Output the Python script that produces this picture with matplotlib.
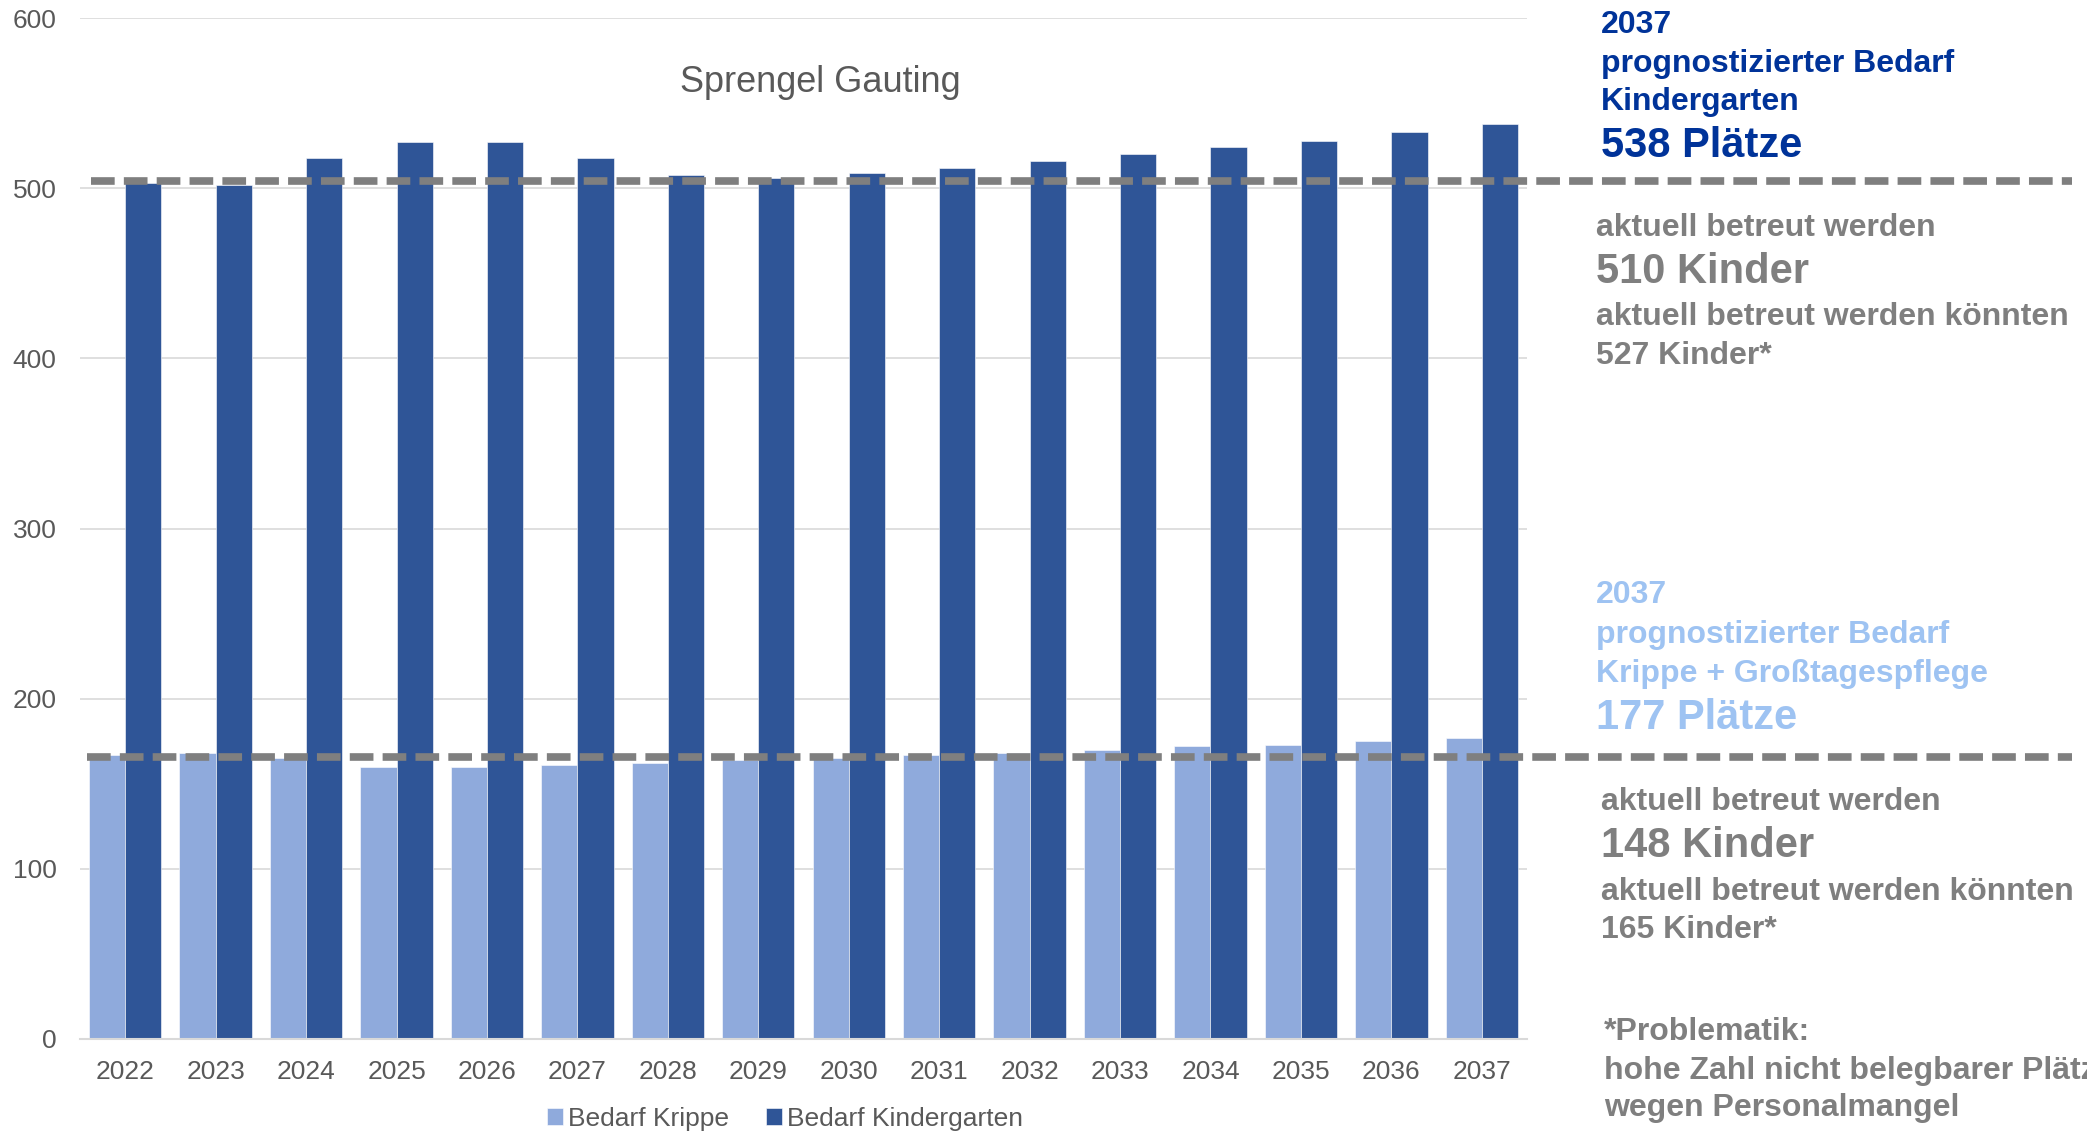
import matplotlib
matplotlib.use("Agg")
import matplotlib.pyplot as plt
import matplotlib.transforms as mtransforms
import numpy as np

plt.rcParams['font.family'] = ['Liberation Sans', 'DejaVu Sans']

# Data
years = [str(y) for y in range(2022, 2038)]
krippe = [167, 168, 165, 160, 160, 161, 162, 164, 165, 167, 168, 170, 172, 173, 175, 177]
kindergarten = [503, 502, 518, 527, 527, 518, 508, 506, 509, 512, 516, 520, 524, 528, 533, 538]
ref_kiga = 504
ref_krippe = 166

C_LIGHT = '#8FAADC'
C_DARK = '#2F5597'
C_GREY = '#7F7F7F'
C_BLUE = '#003399'
C_LBLUE = '#9EC3F2'

W, H = 2087, 1133
fig = plt.figure(figsize=(W / 100, H / 100), dpi=100)
ax = fig.add_axes([80 / W, 94 / H, (1527 - 80) / W, (1115 - 94) / H])

x = np.arange(len(years))
bw = 0.4
ax.bar(x - bw / 2, krippe, bw, color=C_LIGHT, edgecolor='white', linewidth=0.4,
       label='Bedarf Krippe', zorder=2)
ax.bar(x + bw / 2, kindergarten, bw, color=C_DARK, edgecolor='white', linewidth=0.4,
       label='Bedarf Kindergarten', zorder=2)

ax.set_xlim(-0.5, len(years) - 0.5)
ax.set_ylim(0, 600)
ax.set_yticks(range(0, 601, 100))
ax.set_xticks(x)
ax.set_xticklabels(years)
ax.tick_params(axis='both', length=0, labelsize=19, labelcolor='#595959')
ax.tick_params(axis='y', pad=17)
ax.tick_params(axis='x', pad=15)
ax.grid(axis='y', color='#D9D9D9', linewidth=1.2, zorder=0)
ax.set_axisbelow(True)
for s in ['top', 'right', 'left']:
    ax.spines[s].set_visible(False)
ax.spines['bottom'].set_color('#D9D9D9')
ax.spines['bottom'].set_linewidth(1.5)

ax.text((820 - 80) / (1527 - 80), 1 - (82 - 18) / (1039 - 18), 'Sprengel Gauting',
        transform=ax.transAxes, ha='center', va='center', fontsize=26, color='#595959')

# dashed reference lines reaching into the annotation area
blend = mtransforms.blended_transform_factory(fig.transFigure, ax.transData)
for yv, x0 in [(ref_kiga, 91), (ref_krippe, 87)]:
    ax.plot([x0 / W, 2072 / W], [yv, yv], transform=blend, clip_on=False,
            color=C_GREY, linewidth=5.5, linestyle=(0, (3.1, 1.2)), zorder=5)

fig.legend(loc='center', bbox_to_anchor=(785 / W, 14 / H), ncol=2, frameon=False,
           fontsize=19, handlelength=0.6, handleheight=0.6, handletextpad=0.2,
           columnspacing=1.4, labelcolor='#595959')


def note(px, py, s, color, size):
    fig.text(px / W, 1 - py / H, s, color=color, fontsize=size, fontweight='bold',
             ha='left', va='center')


# upper block (Kindergarten)
note(1601, 25, '2037', C_BLUE, 23)
note(1601, 64, 'prognostizierter Bedarf', C_BLUE, 23)
note(1601, 102, 'Kindergarten', C_BLUE, 23)
note(1601, 146, '538 Plätze', C_BLUE, 30)
note(1596, 228, 'aktuell betreut werden', C_GREY, 23)
note(1596, 272, '510 Kinder', C_GREY, 30)
note(1596, 317, 'aktuell betreut werden könnten', C_GREY, 23)
note(1596, 356, '527 Kinder*', C_GREY, 23)

# lower block (Krippe)
note(1596, 595, '2037', C_LBLUE, 23)
note(1596, 635, 'prognostizierter Bedarf', C_LBLUE, 23)
note(1596, 674, 'Krippe + Großtagespflege', C_LBLUE, 23)
note(1596, 718, '177 Plätze', C_LBLUE, 30)
note(1601, 802, 'aktuell betreut werden', C_GREY, 23)
note(1601, 846, '148 Kinder', C_GREY, 30)
note(1601, 892, 'aktuell betreut werden könnten', C_GREY, 23)
note(1601, 930, '165 Kinder*', C_GREY, 23)
note(1604, 1032, '*Problematik:', C_GREY, 23)
note(1604, 1071, 'hohe Zahl nicht belegbarer Plätze', C_GREY, 23)
note(1604, 1108, 'wegen Personalmangel', C_GREY, 23)

fig.savefig('out.png', dpi=100)
